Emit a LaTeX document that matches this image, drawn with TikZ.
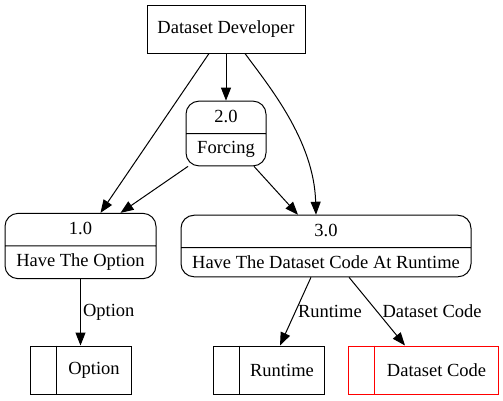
\documentclass[tikz,border=0pt]{standalone}
\usepackage{fontspec}
\setmainfont{Liberation Serif}
\usepackage{xcolor}
\usetikzlibrary{arrows.meta,shapes.multipart}

\begin{document}
\begin{tikzpicture}[x=1pt,y=-1pt,line width=1pt,
  font=\fontsize{18.5}{20}\selectfont,
  flow/.style={-{Triangle[length=13pt,width=10pt]}},
  entity/.style={draw,minimum height=48pt,inner sep=0pt},
  process/.style={draw,rounded corners=13pt,rectangle split,rectangle split parts=2,
    inner ysep=7.5pt,inner xsep=0pt,text height=13pt,text depth=3.5pt},
  store/.style={draw,minimum height=48pt,inner sep=0pt}]
\useasboundingbox (0,0) rectangle (503,400);
% external entity
\node[entity,minimum width=158pt] (dev) at (226,29) {Dataset Developer};
% processes
\node[process,minimum width=80pt] (forcing) at (226,133.5) {2.0\nodepart{two}Forcing};
\node[process,minimum width=151pt] (option) at (80.5,246) {1.0\nodepart{two}Have The Option};
\node[process,minimum width=290pt] (runtime) at (326,246) {3.0\nodepart{two}Have The Dataset Code At Runtime};
% data stores
\node[store,minimum width=101pt] (optstore) at (80.5,370) {};
\draw ([xshift=27pt]optstore.north west) -- ([xshift=27pt]optstore.south west);
\node at ([xshift=13.5pt]optstore.center) {Option};
\node[store,minimum width=111pt] (rtstore) at (268.5,370) {};
\draw ([xshift=27pt]rtstore.north west) -- ([xshift=27pt]rtstore.south west);
\node at ([xshift=13.5pt]rtstore.center) {Runtime};
\node[store,draw=red,minimum width=150pt] (codestore) at (423,370) {};
\draw[red] ([xshift=27pt]codestore.north west) -- ([xshift=27pt]codestore.south west);
\node at ([xshift=13.5pt]codestore.center) {Dataset Code};
% flows
\draw[flow] (dev.south) -- (forcing.north);
\draw[flow] ([xshift=-17pt]dev.south) -- ([xshift=20pt]option.north);
\draw[flow] ([xshift=-38pt]forcing.south) -- ([xshift=40pt]option.north);
\draw[flow] ([xshift=28pt]forcing.south) -- ([xshift=-28pt]runtime.north);
\draw[flow] ([xshift=19pt]dev.south) .. controls (268,85) and (314,140) .. ([xshift=-10pt]runtime.north);
\draw[flow] (option.south) -- node[right,inner sep=2pt] {Option} (optstore.north);
\draw[flow] ([xshift=-15pt]runtime.south) -- node[right,inner sep=2pt] {Runtime} ([xshift=11.5pt]rtstore.north);
\draw[flow] ([xshift=23pt]runtime.south) -- node[right,inner sep=5pt] {Dataset Code} ([xshift=-18pt]codestore.north);
\end{tikzpicture}
\end{document}
